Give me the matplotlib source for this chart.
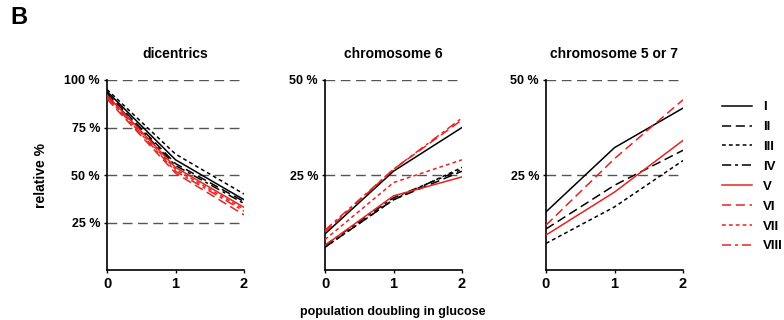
import matplotlib
matplotlib.use('Agg')
import matplotlib.pyplot as plt
from matplotlib.lines import Line2D

plt.rcParams['font.family'] = ['Liberation Sans', 'DejaVu Sans']
plt.rcParams['font.weight'] = 'bold'

# population doublings
x = [0, 1, 2]
labels = ['I', 'II', 'III', 'IV', 'V', 'VI', 'VII', 'VIII']

# relative % per strain, panel by panel
dicentrics = {
    'I':    [94, 58, 37],
    'II':   [93, 56, 36],
    'III':  [95, 61, 40],
    'IV':   [92, 55, 35],
    'V':    [92, 54, 33],
    'VI':   [90, 51, 29],
    'VII':  [91, 53, 32],
    'VIII': [91, 52, 31],
}
chrom6 = {
    'I':    [9.5, 26, 37.5],
    'II':   [6, 18.5, 26],
    'III':  [6, 18.5, 27],
    'IV':   [6.5, 19, 26.5],
    'V':    [6.5, 19.5, 24.5],
    'VI':   [10, 26.5, 39.5],
    'VII':  [8, 23, 29],
    'VIII': [10.5, 26.5, 40],
}
chrom5or7 = {
    'I':   [15.3, 32.2, 42.6],
    'II':  [10.8, 22.3, 31.5],
    'III': [7.0, 16.6, 28.8],
    'V':   [9.2, 20.5, 34.1],
    'VI':  [11.8, 29.3, 44.8],
}

red = '#e8231f'
styles = {
    'I':    ('black', '-'),
    'II':   ('black', (0, (6, 3))),
    'III':  ('black', (0, (2.5, 2))),
    'IV':   ('black', (0, (6, 2.5, 2, 2.5))),
    'V':    (red, '-'),
    'VI':   (red, (0, (6, 3))),
    'VII':  (red, (0, (2.5, 2))),
    'VIII': (red, (0, (6, 2.5, 2, 2.5))),
}

panels = [
    ('dicentrics', dicentrics, 100, [25, 50, 75, 100], 107),
    ('chromosome 6', chrom6, 50, [25, 50], 325),
    ('chromosome 5 or 7', chrom5or7, 50, [25, 50], 546),
]

W, H = 784, 320
fig = plt.figure(figsize=(7.84, 3.2), dpi=100)

for title, data, ymax, yticks, left in panels:
    ax = fig.add_axes([left / W, 50 / H, 137 / W, 190 / H])
    for v in yticks:
        ax.axhline(v, color='#555555', lw=1.0, dashes=(7, 4), zorder=1)
    for name, vals in data.items():
        c, ls = styles[name]
        ax.plot(x, vals, color=c, linestyle=ls, lw=1.1, zorder=3)
    ax.set_xlim(0, 2)
    ax.set_ylim(0, ymax)
    ax.set_xticks(x)
    ax.set_yticks(yticks)
    ax.set_yticklabels([f'{v} %' for v in yticks])
    ax.spines['top'].set_visible(False)
    ax.spines['right'].set_visible(False)
    ax.spines['left'].set_linewidth(1.2)
    ax.spines['bottom'].set_linewidth(1.2)
    ax.tick_params(axis='y', length=2, width=1, labelsize=9, pad=3)
    ax.tick_params(axis='x', length=2, width=1, labelsize=10.5, pad=3)
    ax.set_title(title, fontsize=10, fontweight='bold', pad=16)
    if left == 107:
        ax.set_ylabel('relative %', fontsize=10, fontweight='bold', labelpad=12)

fig.text(393 / W, 1 - 312 / H, 'population doubling in glucose',
         ha='center', va='center', fontsize=9, fontweight='bold')
fig.text(10 / W, 1 - 18 / H, 'B', ha='left', va='center',
         fontsize=17, fontweight='bold')

handles = [Line2D([], [], color=styles[n][0], linestyle=styles[n][1], lw=1.1)
           for n in labels]
fig.legend(handles, labels, loc='upper left',
           bbox_to_anchor=(722 / W, 1 - 101 / H), frameon=False,
           fontsize=9.5, handlelength=2.3, handletextpad=0.8,
           labelspacing=0.58, borderaxespad=0, borderpad=0)

fig.savefig('out.png', dpi=100)
